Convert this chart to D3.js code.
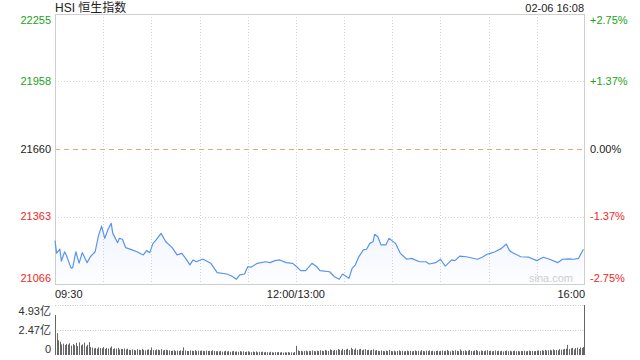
<html>
<head>
<meta charset="utf-8">
<script src="https://d3js.org/d3.v7.min.js"></script>
<style>
  body { margin: 0; background: #fff; }
  svg { font-family: "Liberation Sans", Arial, "Noto Sans CJK SC", sans-serif; }
</style>
</head>
<body>
<svg id="chart"></svg>
<script>
// 分时数据: 交易分钟 (0 = 09:30, 150 = 12:00/13:00, 330 = 16:00)
var priceMin = [0,1,3,4,6,7,10,11,13,15,17,20,22,25,27,29,31,33,35,36,39,40,42,44,48,51,55,57,59,61,63,66,69,73,76,79,82,84,86,88,92,97,101,107,110,113,115,118,120,122,126,131,134,137,140,144,148,150,153,156,160,163,165,171,174,177,179,183,185,187,189,192,194,196,198,199,201,203,206,208,212,215,219,222,227,231,233,237,240,243,247,249,252,256,263,266,269,271,274,278,281,283,285,290,295,300,304,308,313,316,320,323,326,329]
var priceVal = [21257,21202,21220,21167,21208,21194,21136,21138,21208,21158,21204,21160,21186,21208,21277,21321,21267,21307,21333,21289,21248,21267,21263,21226,21216,21208,21194,21213,21204,21245,21260,21289,21252,21226,21194,21201,21172,21150,21172,21164,21176,21157,21116,21110,21101,21087,21106,21110,21142,21140,21157,21164,21160,21169,21172,21160,21157,21145,21125,21125,21157,21142,21125,21120,21098,21087,21110,21091,21135,21150,21184,21216,21219,21245,21252,21285,21274,21238,21238,21267,21245,21201,21175,21179,21164,21164,21154,21160,21175,21145,21172,21169,21189,21186,21175,21184,21197,21201,21208,21223,21242,21213,21204,21186,21184,21169,21184,21175,21160,21175,21177,21175,21179,21219]

// 成交量 (亿), 每分钟一根
var volume = [
  3.95,2.15,1.45,1.30,
  1.05,1.12,0.98,1.10,1.02,1.15,0.92,1.08,0.96,1.20,0.88,1.25,0.95,1.05,1.22,0.85,1.00,1.28,0.78,
  0.72,0.65,0.70,0.62,0.75,0.68,0.66,0.78,0.60,0.70,0.64,0.72,0.85,0.58,0.66,0.62,0.70,0.55,0.60,0.58,0.64,0.56,0.62,
  0.52,0.48,0.55,0.50,0.46,0.58,0.52,0.48,0.60,0.50,0.45,0.52,0.55,0.48,0.75,0.50,0.46,0.55,0.52,0.48,0.58,0.45,0.50,0.52,0.47,
  0.45,0.40,0.42,0.48,0.38,0.44,0.40,0.46,0.42,0.75,0.44,0.40,0.38,0.45,0.42,0.40,0.47,0.38,0.43,0.40,0.45,0.41,0.38,0.44,0.40,0.42,0.39,0.46,0.40,0.37,
  0.38,0.35,0.40,0.33,0.36,0.42,0.34,0.38,0.32,0.36,0.40,0.33,0.35,0.31,0.38,0.34,0.36,0.30,0.33,0.37,0.32,0.28,0.34,0.30,0.35,0.27,0.31,0.29,0.33,0.26,
  0.30,0.28,0.25,0.32,0.27,0.24,0.29,0.26,0.30,0.25,0.28,0.23,0.27,0.25,0.29,0.24,0.26,0.22,0.30,0.90,
  0.45,0.38,0.42,0.35,0.40,0.44,0.36,0.41,0.38,0.45,0.40,0.36,0.43,0.39,0.47,0.42,0.38,0.50,0.44,0.40,0.55,0.48,0.42,0.50,0.46,0.58,0.52,0.45,0.60,0.50,
  0.55,0.62,0.48,0.70,0.58,0.52,0.65,0.50,0.56,0.60,0.46,0.53,0.58,0.48,0.52,0.45,0.50,0.55,0.44,0.48,
  0.42,0.38,0.46,0.40,0.36,0.44,0.38,0.50,0.41,0.37,0.43,0.35,0.40,0.46,0.38,0.42,0.36,0.39,0.44,0.37,
  0.41,0.35,0.40,0.45,0.38,0.42,0.36,0.48,0.40,0.37,0.43,0.39,0.46,0.38,0.42,0.36,0.40,0.44,0.37,0.41,
  0.45,0.38,0.42,0.50,0.40,0.36,0.44,0.39,0.47,0.41,0.38,0.55,0.42,0.40,0.46,0.37,0.43,0.48,0.40,0.38,
  0.44,0.50,0.41,0.36,0.45,0.40,0.38,0.43,0.47,0.39,0.42,0.36,0.40,0.45,0.38,0.42,0.37,0.41,0.35,0.40,
  0.44,0.38,0.42,0.36,0.39,0.43,0.37,0.41,0.35,0.40,0.38,0.42,0.36,0.40,0.44,0.38,0.41,0.37,0.40,0.43,
  0.45,0.40,0.48,0.42,0.50,0.44,0.47,0.52,0.45,0.55,0.48,0.50,0.46,0.58,0.52,0.55,0.60,0.62,1.00,0.58,
  0.65,0.70,0.55,0.68,0.72,0.60,0.75,0.70,0.78,
  4.93
]

var priceTicks = [22255, 21958, 21660, 21363, 21066]
var pctTicks = ["+2.75%", "+1.37%", "0.00%", "-1.37%", "-2.75%"]
var volTicks = [4.93, 2.47, 0]
var volTickLabels = ["4.93亿", "2.47亿", "0"]
var timeLabels = ["09:30", "12:00/13:00", "16:00"]
var timeLabelMin = [0, 150, 330]
var prevClose = 21660

var width = 640, height = 360
var pLeft = 55, pRight = 585
var pTop = 14, pBottom = 284
var vTop = 305, vBottom = 355

var svg = d3.select("#chart").attr("width", width).attr("height", height)

var x = d3.scaleLinear().domain([0, 330]).range([pLeft, pRight])
var y = d3.scaleLinear().domain([21066, 22255]).range([pBottom, pTop])
var yv = d3.scaleLinear().domain([0, 4.93]).range([vBottom, vTop])

var colorOf = function(v) {
  if (v > prevClose) return "#1aa31a"
  if (v < prevClose) return "#f0281e"
  return "#222"
}

// 标题
svg.append("text").attr("x", pLeft).attr("y", 12)
  .attr("font-size", 12).attr("fill", "#222")
  .text("HSI 恒生指数")
svg.append("text").attr("x", pRight - 1).attr("y", 12)
  .attr("font-size", 11).attr("fill", "#222").attr("text-anchor", "end")
  .text("02-06 16:08")

// 竖网格
var vgrid = d3.range(30, 330, 30)
svg.append("g").selectAll("line").data(vgrid).join("line")
  .attr("x1", d => Math.round(x(d)) + 0.5).attr("x2", d => Math.round(x(d)) + 0.5)
  .attr("y1", pTop).attr("y2", pBottom)
  .attr("stroke", "#d4d4d4").attr("stroke-dasharray", "1,2")

// 横网格
svg.append("g").selectAll("line").data([21958, 21363]).join("line")
  .attr("x1", pLeft).attr("x2", pRight)
  .attr("y1", d => Math.round(y(d)) + 0.5).attr("y2", d => Math.round(y(d)) + 0.5)
  .attr("stroke", "#d4d4d4").attr("stroke-dasharray", "1,2")

svg.append("line")
  .attr("x1", pLeft).attr("x2", pRight)
  .attr("y1", Math.round(y(prevClose)) + 0.5).attr("y2", Math.round(y(prevClose)) + 0.5)
  .attr("stroke", "#f4a46a").attr("stroke-dasharray", "5,4")

// 边框
svg.append("rect")
  .attr("x", pLeft + 0.5).attr("y", pTop + 0.5)
  .attr("width", pRight - pLeft - 1).attr("height", pBottom - pTop)
  .attr("fill", "none").attr("stroke", "#cfcfcf")

// watermark
svg.append("text").attr("x", 573).attr("y", 282)
  .attr("font-size", 11).attr("fill", "#d0d0d0").attr("text-anchor", "end")
  .text("sina.com")

// 价格线
var pts = priceMin.map((m, i) => ({m: m, v: priceVal[i]}))

var grad = svg.append("defs").append("linearGradient")
  .attr("id", "fillGrad").attr("x1", 0).attr("y1", 0).attr("x2", 0).attr("y2", 1)
grad.append("stop").attr("offset", "0%").attr("stop-color", "#5a93f0").attr("stop-opacity", 0.10)
grad.append("stop").attr("offset", "100%").attr("stop-color", "#5a93f0").attr("stop-opacity", 0.01)

var area = d3.area().x(d => x(d.m)).y0(pBottom).y1(d => y(d.v))
svg.append("path").datum(pts).attr("d", area).attr("fill", "url(#fillGrad)")

var line = d3.line().x(d => x(d.m)).y(d => y(d.v))
svg.append("path").datum(pts).attr("d", line)
  .attr("fill", "none").attr("stroke", "#5a93f0").attr("stroke-width", 1.2)
  .attr("stroke-linejoin", "round")

// 左侧价格刻度
svg.append("g").selectAll("text").data(priceTicks).join("text")
  .attr("x", pLeft - 4)
  .attr("y", (d, i) => i == 0 ? y(d) + 6 : (i == priceTicks.length - 1 ? y(d) - 6 : y(d)))
  .attr("dy", "0.35em")
  .attr("text-anchor", "end").attr("font-size", 11)
  .attr("fill", d => colorOf(d))
  .text(d => d)

// 右侧涨跌幅
svg.append("g").selectAll("text").data(priceTicks).join("text")
  .attr("x", pRight + 5)
  .attr("y", (d, i) => i == 0 ? y(d) + 6 : (i == priceTicks.length - 1 ? y(d) - 6 : y(d)))
  .attr("dy", "0.35em")
  .attr("font-size", 11)
  .attr("fill", d => colorOf(d))
  .text((d, i) => pctTicks[i])

// 时间标签
svg.append("g").selectAll("text").data(timeLabels).join("text")
  .attr("x", (d, i) => x(timeLabelMin[i]))
  .attr("y", 298)
  .attr("text-anchor", (d, i) => i == 0 ? "start" : (i == timeLabels.length - 1 ? "end" : "middle"))
  .attr("font-size", 11).attr("fill", "#222")
  .text(d => d)

// 成交量
svg.append("g").selectAll("line").data([4.93, 2.47]).join("line")
  .attr("x1", pLeft).attr("x2", pRight)
  .attr("y1", d => Math.round(yv(d)) + 0.5).attr("y2", d => Math.round(yv(d)) + 0.5)
  .attr("stroke", "#c8c8c8").attr("stroke-dasharray", "1,1.5")

svg.append("g").selectAll("rect").data(volume).join("rect")
  .attr("x", (d, i) => Math.round(x(i)) - (i == volume.length - 1 ? 1 : 0))
  .attr("width", 1)
  .attr("y", d => yv(d))
  .attr("height", d => vBottom - yv(d))
  .attr("fill", "#666")

svg.append("g").selectAll("text").data(volTicks).join("text")
  .attr("x", pLeft - 4)
  .attr("y", (d, i) => i == 0 ? yv(d) + 6 : (i == volTicks.length - 1 ? yv(d) - 6 : yv(d)))
  .attr("dy", "0.35em")
  .attr("text-anchor", "end").attr("font-size", 11).attr("fill", "#333")
  .text((d, i) => volTickLabels[i])
</script>
</body>
</html>
